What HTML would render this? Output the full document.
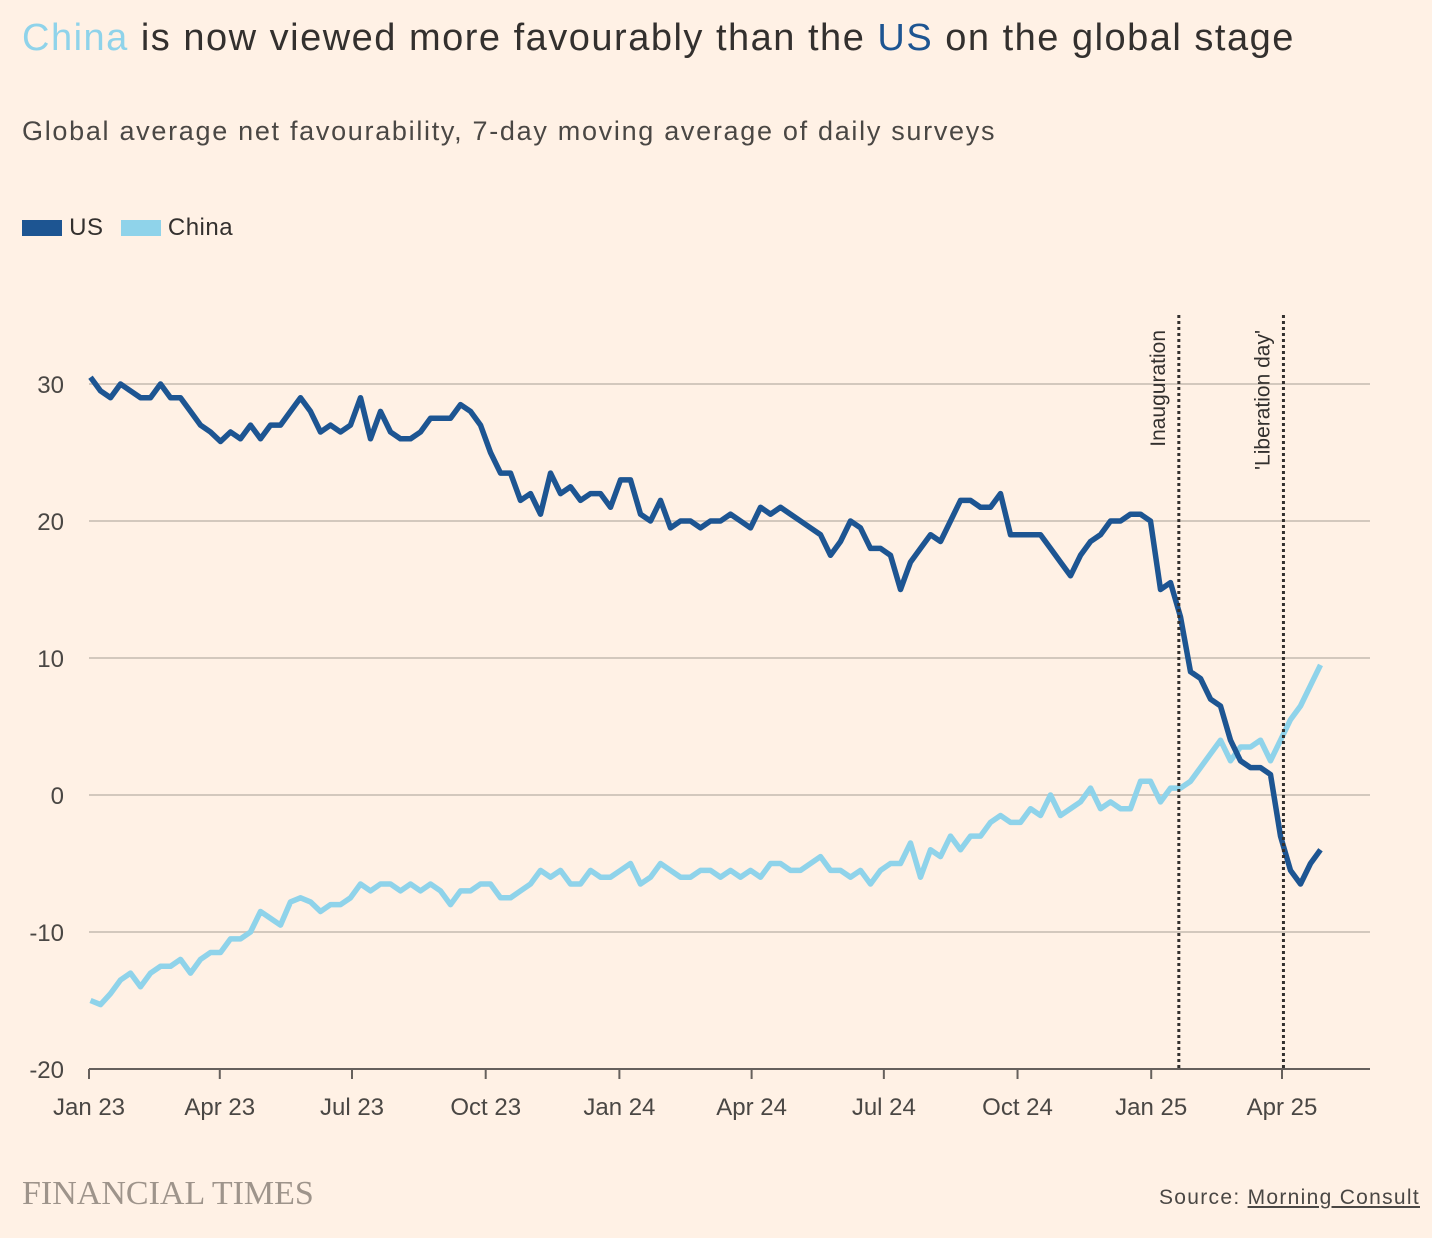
<!DOCTYPE html>
<html><head><meta charset="utf-8">
<style>
body{margin:0;background:#fff1e5;font-family:"Liberation Sans",sans-serif;color:#33302e}
#wrap{position:relative;width:1432px;height:1238px;overflow:hidden}
.t{position:absolute;white-space:nowrap}
</style></head><body>
<div id="wrap">
<div class="t" style="left:22px;top:17px;font-size:38px;letter-spacing:1.5px"><span style="color:#8fd3ea">China</span> is now viewed more favourably than the <span style="color:#1d5592">US</span> on the global stage</div>
<div class="t" style="left:22px;top:116px;font-size:27px;letter-spacing:1.7px;color:#4a4744">Global average net favourability, 7-day moving average of daily surveys</div>
<div class="t" style="left:22px;top:214px;font-size:24px;letter-spacing:0.5px">
<span><span style="display:inline-block;width:40px;height:16px;background:#1d5592;vertical-align:-1px"></span> US</span>
<span style="margin-left:10px"><span style="display:inline-block;width:40px;height:16px;background:#8fd3ea;vertical-align:-1px"></span> China</span>
</div>
<svg id="chart" width="1432" height="1238" style="position:absolute;left:0;top:0"></svg>
<div class="t" style="left:22px;top:1175px;font-size:34px;font-family:'Liberation Serif',serif;color:#9e948b">FINANCIAL TIMES</div>
<div class="t" style="right:12px;top:1186px;font-size:21px;letter-spacing:1.3px;color:#4a4744">Source: <span style="text-decoration:underline">Morning Consult</span></div>
</div>
<script>
const yTicks=[30,20,10,0,-10,-20];
const xTickLabels=["Jan 23","Apr 23","Jul 23","Oct 23","Jan 24","Apr 24","Jul 24","Oct 24","Jan 25","Apr 25"];
const xTickDays=[0,90,181,273,365,456,547,639,731,821];
const dayStep=6.882;
const usValues=[30.5,29.5,29,30,29.5,29,29,30,29,29,28,27,26.5,25.8,26.5,26,27,26,27,27,28,29,28,26.5,27,26.5,27,29,26,28,26.5,26,26,26.5,27.5,27.5,27.5,28.5,28,27,25,23.5,23.5,21.5,22,20.5,23.5,22,22.5,21.5,22,22,21,23,23,20.5,20,21.5,19.5,20,20,19.5,20,20,20.5,20,19.5,21,20.5,21,20.5,20,19.5,19,17.5,18.5,20,19.5,18,18,17.5,15,17,18,19,18.5,20,21.5,21.5,21,21,22,19,19,19,19,18,17,16,17.5,18.5,19,20,20,20.5,20.5,20,15,15.5,13,9,8.5,7,6.5,4,2.5,2,2,1.5,-3,-5.5,-6.5,-5,-4];
const chinaValues=[-15,-15.3,-14.5,-13.5,-13,-14,-13,-12.5,-12.5,-12,-13,-12,-11.5,-11.5,-10.5,-10.5,-10,-8.5,-9,-9.5,-7.8,-7.5,-7.8,-8.5,-8,-8,-7.5,-6.5,-7,-6.5,-6.5,-7,-6.5,-7,-6.5,-7,-8,-7,-7,-6.5,-6.5,-7.5,-7.5,-7,-6.5,-5.5,-6,-5.5,-6.5,-6.5,-5.5,-6,-6,-5.5,-5,-6.5,-6,-5,-5.5,-6,-6,-5.5,-5.5,-6,-5.5,-6,-5.5,-6,-5,-5,-5.5,-5.5,-5,-4.5,-5.5,-5.5,-6,-5.5,-6.5,-5.5,-5,-5,-3.5,-6,-4,-4.5,-3,-4,-3,-3,-2,-1.5,-2,-2,-1,-1.5,0,-1.5,-1,-0.5,0.5,-1,-0.5,-1,-1,1,1,-0.5,0.5,0.5,1,2,3,4,2.5,3.5,3.5,4,2.5,4,5.5,6.5,8,9.5];
const events=[{label:"Inauguration",day:750},{label:"'Liberation day'",day:822}];

const svg=document.getElementById('chart');
const NS='http://www.w3.org/2000/svg';
const X0=89,PXD=1.4531,Y0=795,PXU=13.7;
const xs=d=>X0+d*PXD, ys=v=>Y0-v*PXU;
function mk(t,a){const e=document.createElementNS(NS,t);for(const k in a)e.setAttribute(k,a[k]);svg.appendChild(e);return e;}
yTicks.forEach(v=>{
  if(v>-20){const g=mk('line',{x1:X0,x2:1370,y1:ys(v),y2:ys(v),stroke:'#d3c8bd','stroke-width':2});
  
  }
  const t=mk('text',{x:64,y:ys(v)+9,'text-anchor':'end','font-size':24,fill:'#4a4744','font-family':'Liberation Sans, sans-serif'});
  t.textContent=v;
  
  
});
const ax=mk('line',{x1:X0,x2:1370,y1:ys(-20),y2:ys(-20),stroke:'#66605c','stroke-width':2});


xTickDays.forEach((d,i)=>{
  const tk=mk('line',{x1:xs(d),x2:xs(d),y1:ys(-20),y2:ys(-20)+10,stroke:'#66605c','stroke-width':2});
  
  
  const t=mk('text',{x:xs(d),y:1115,'text-anchor':'middle','font-size':24,fill:'#4a4744','font-family':'Liberation Sans, sans-serif'});
  t.textContent=xTickLabels[i];
  
  
});
function series(vals,color,name){
  const p=vals.map((v,i)=>(i?'L':'M')+xs(1+i*dayStep).toFixed(1)+','+ys(v).toFixed(1)).join('');
  const e=mk('path',{d:p,fill:'none',stroke:color,'stroke-width':5.5,'stroke-linejoin':'round'});
  
  
}
series(chinaValues,'#8fd3ea','china-line');
series(usValues,'#1d5592','us-line');
events.forEach(ev=>{
  const l=mk('line',{x1:xs(ev.day),x2:xs(ev.day),y1:315,y2:ys(-20),stroke:'#33302e','stroke-width':3,'stroke-dasharray':'3,3'});
  
  
  const t=mk('text',{x:0,y:0,'text-anchor':'end','font-size':21,fill:'#33302e','font-family':'Liberation Sans, sans-serif',transform:`translate(${xs(ev.day)-14},330) rotate(-90)`});
  t.textContent=ev.label;
  
  
});
</script>
</body></html>
